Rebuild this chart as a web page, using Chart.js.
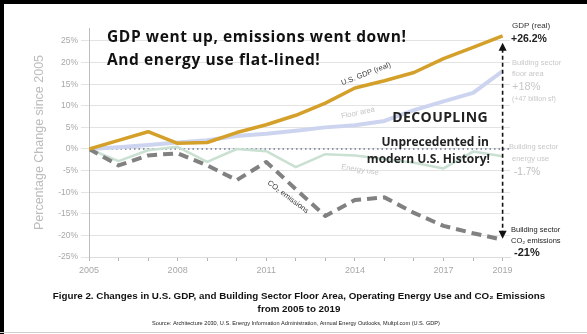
<!DOCTYPE html>
<html>
<head>
<meta charset="utf-8">
<script src="https://cdn.jsdelivr.net/npm/chart.js@4"></script>
<style>
  html, body { margin: 0; padding: 0; background: #fff; width: 587px; height: 334px; overflow: hidden; }
  canvas { display: block; }
</style>
</head>
<body>
<canvas id="decouplingChart" width="587" height="334"></canvas>
<script>
// data (percent change since 2005)
const years = [2005, 2006, 2007, 2008, 2009, 2010, 2011, 2012, 2013, 2014, 2015, 2016, 2017, 2018, 2019];
const labelYears = [2005, 2008, 2011, 2014, 2017, 2019];
const yTicks = [-25, -20, -15, -10, -5, 0, 5, 10, 15, 20, 25];
const gdp = [0, 2.0, 4.0, 1.3, 1.5, 3.8, 5.6, 7.8, 10.6, 14.1, 15.8, 17.7, 20.9, 23.5, 26.2];
const floorArea = [0, 0.4, 0.9, 1.5, 2.0, 3.0, 3.5, 4.2, 5.0, 5.5, 6.5, 9.0, 11.0, 13.0, 18.0];
const energyUse = [0, -2.8, -0.3, 0.5, -3.0, 0, -0.5, -4.2, -1.2, -1.5, -2.3, -3.2, -4.5, -0.6, -1.7];
const co2 = [0, -3.8, -1.5, -1.0, -3.8, -7.2, -3.0, -9.3, -15.5, -11.8, -11.2, -14.8, -17.8, -19.5, -21.0];

const toPoints = arr => arr.map((v, i) => ({ x: years[i], y: v }));

const SANS = 'Arial, "Liberation Sans", sans-serif';
const OPEN = '"Open Sans", sans-serif';

function text(ctx, str, x, y, font, color, align, angle, spacing) {
  ctx.save();
  ctx.font = font;
  ctx.fillStyle = color;
  ctx.textAlign = align || 'left';
  ctx.textBaseline = 'middle';
  if (spacing) ctx.letterSpacing = spacing;
  ctx.translate(x, y);
  if (angle) ctx.rotate(angle * Math.PI / 180);
  ctx.fillText(str, 0, 0);
  ctx.restore();
}

// zero reference line, annotations, arrow and frame
const decorations = {
  id: 'decorations',
  beforeDraw(chart) {
    const ctx = chart.ctx;
    ctx.save();
    ctx.fillStyle = '#fff';
    ctx.fillRect(0, 0, chart.width, chart.height);
    ctx.restore();
  },
  beforeDatasetsDraw(chart) {
    const { ctx, chartArea, scales: { y } } = chart;
    const y0 = y.getPixelForValue(0);
    ctx.save();
    ctx.strokeStyle = '#6d7c96';
    ctx.lineWidth = 1.5;
    ctx.setLineDash([1.5, 3]);
    ctx.beginPath();
    ctx.moveTo(chartArea.left, y0);
    ctx.lineTo(chartArea.right, y0);
    ctx.stroke();
    ctx.restore();
  },
  afterDraw(chart) {
    const { ctx, scales: { x, y } } = chart;
    const last = years.length - 1;
    const ax = x.getPixelForValue(years[last]);
    const top = y.getPixelForValue(gdp[last]) + 7;
    const bottom = y.getPixelForValue(co2[last]) - 1;

    // decoupling arrow
    ctx.save();
    ctx.strokeStyle = '#111';
    ctx.fillStyle = '#111';
    ctx.lineWidth = 1.6;
    ctx.setLineDash([4, 3]);
    ctx.beginPath();
    ctx.moveTo(ax, top + 6);
    ctx.lineTo(ax, bottom - 6);
    ctx.stroke();
    ctx.setLineDash([]);
    ctx.beginPath();
    ctx.moveTo(ax, top); ctx.lineTo(ax - 4, top + 8); ctx.lineTo(ax + 4, top + 8);
    ctx.closePath(); ctx.fill();
    ctx.beginPath();
    ctx.moveTo(ax, bottom); ctx.lineTo(ax - 4, bottom - 8); ctx.lineTo(ax + 4, bottom - 8);
    ctx.closePath(); ctx.fill();
    ctx.restore();

    // headline
    text(ctx, 'GDP went up, emissions went down!', 107, 38, 'bold 15.5px ' + OPEN, '#111', 'left', 0, '0.6px');
    text(ctx, 'And energy use flat-lined!', 107, 61, 'bold 15.5px ' + OPEN, '#111', 'left', 0, '0.6px');
    text(ctx, 'DECOUPLING', 488, 118, 'bold 14px ' + OPEN, '#222', 'right', 0, '0.4px');
    text(ctx, 'Unprecedented in', 489, 143, 'bold 12px ' + OPEN, '#222', 'right');
    text(ctx, 'modern U.S. History!', 490, 160, 'bold 12px ' + OPEN, '#222', 'right');

    // labels along the lines
    text(ctx, 'U.S. GDP (real)', 366, 74, '7.5px ' + SANS, '#444', 'center', -21);
    text(ctx, 'Floor area', 358, 113, '7.5px ' + SANS, '#c6c6c6', 'center', -12);
    text(ctx, 'Energy use', 360, 170, '7.5px ' + SANS, '#c6c6c6', 'center', 9);
    text(ctx, 'CO\u2082 emissions', 288, 197, '7.5px ' + SANS, '#333', 'center', 37);

    // end labels
    text(ctx, 'GDP (real)', 512, 26, '8px ' + SANS, '#333');
    text(ctx, '+26.2%', 511, 39, 'bold 10.5px ' + SANS, '#222');
    text(ctx, 'Building sector', 512, 63, '7.5px ' + SANS, '#c8c8c8');
    text(ctx, 'floor area', 512, 74, '7.5px ' + SANS, '#c8c8c8');
    text(ctx, '+18%', 512, 87, '11px ' + SANS, '#c8c8c8');
    text(ctx, '(+47 billion sf)', 512, 99, '7px ' + SANS, '#c8c8c8');
    text(ctx, 'Building sector', 509, 147, '7.5px ' + SANS, '#c8c8c8');
    text(ctx, 'energy use', 512, 159, '7.5px ' + SANS, '#c8c8c8');
    text(ctx, '-1.7%', 514, 172, '10px ' + SANS, '#bdbdbd');
    text(ctx, 'Building sector', 511, 230, '7.5px ' + SANS, '#222');
    text(ctx, 'CO\u2082 emissions', 511, 241, '7.5px ' + SANS, '#222');
    text(ctx, '-21%', 514, 253, 'bold 11px ' + SANS, '#222');

    // caption
    text(ctx, 'Figure 2. Changes in U.S. GDP, and Building Sector Floor Area, Operating Energy Use and CO\u2082 Emissions', 299, 296, 'bold 9.8px ' + SANS, '#111', 'center');
    text(ctx, 'from 2005 to 2019', 299, 309, 'bold 9.8px ' + SANS, '#111', 'center');
    text(ctx, 'Source: Architecture 2030, U.S. Energy Information Administration, Annual Energy Outlooks, Multpl.com (U.S. GDP)', 296, 323, '5.6px ' + SANS, '#222', 'center');

    // frame
    ctx.save();
    ctx.fillStyle = '#000';
    ctx.fillRect(0, 0, chart.width, 4);
    ctx.fillRect(0, 0, 4, chart.height);
    ctx.fillStyle = '#cfcfcf';
    ctx.fillRect(0, chart.height - 2, chart.width, 1);
    ctx.restore();
  }
};

const ctx = document.getElementById('decouplingChart').getContext('2d');

new Chart(ctx, {
  type: 'line',
  data: {
    datasets: [
      {
        label: 'Building sector CO2 emissions',
        data: toPoints(co2),
        borderColor: '#818181',
        borderWidth: 4,
        borderDash: [10, 6],
        order: 1
      },
      {
        label: 'U.S. GDP (real)',
        data: toPoints(gdp),
        borderColor: '#d4a02a',
        borderWidth: 3.5,
        order: 0
      },
      {
        label: 'Energy use',
        data: toPoints(energyUse),
        borderColor: '#c9e0d2',
        borderWidth: 2.5,
        order: 3
      },
      {
        label: 'Floor area',
        data: toPoints(floorArea),
        borderColor: '#cdd4ef',
        borderWidth: 4,
        order: 2
      }
    ]
  },
  options: {
    responsive: false,
    animation: false,
    events: [],
    elements: {
      point: { radius: 0 },
      line: { tension: 0, fill: false, borderCapStyle: 'butt', borderJoinStyle: 'round' }
    },
    layout: { padding: { left: 4, right: 77, top: 28, bottom: 57 } },
    plugins: {
      legend: { display: false },
      tooltip: { enabled: false }
    },
    scales: {
      x: {
        type: 'linear',
        min: 2005,
        max: 2019.25,
        afterBuildTicks: scale => { scale.ticks = years.map(v => ({ value: v })); },
        afterFit: scale => { scale.height = 20; },
        ticks: {
          color: '#a8a8a8',
          font: { family: SANS, size: 9 },
          padding: 4,
          maxRotation: 0,
          autoSkip: false,
          callback: v => labelYears.includes(v) ? String(v) : ''
        },
        grid: { drawOnChartArea: false, drawTicks: true, tickLength: 4, color: '#b5b5b5' },
        border: { display: true, color: '#dcdcdc' }
      },
      y: {
        type: 'linear',
        min: -25,
        max: 28,
        afterBuildTicks: scale => { scale.ticks = yTicks.map(v => ({ value: v })); },
        afterFit: scale => { scale.width = 85; },
        ticks: {
          color: '#a8a8a8',
          font: { family: SANS, size: 8.5 },
          padding: 3,
          callback: v => v + '%'
        },
        grid: { color: '#e3e3e3', lineWidth: 1, tickLength: 8, drawTicks: true },
        border: { display: true, color: '#bdbdbd' },
        title: {
          display: true,
          text: 'Percentage Change since 2005',
          color: '#bcbcbc',
          font: { family: SANS, size: 12.5 },
          padding: { top: 28, bottom: 0 }
        }
      }
    }
  },
  plugins: [decorations]
});
</script>
</body>
</html>
